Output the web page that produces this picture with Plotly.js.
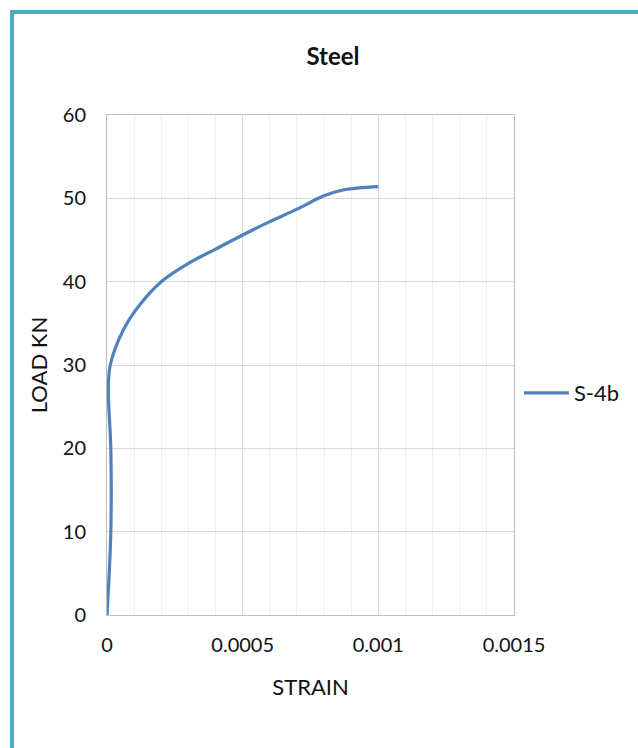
<!DOCTYPE html>
<html>
<head>
<meta charset="utf-8">
<script src="https://cdn.plot.ly/plotly-3.0.1.min.js"></script>
<style>
  html, body { margin: 0; padding: 0; background: #fff; }
  #chart { position: absolute; left: 0; top: 0; width: 638px; height: 748px; }
  #frame { position: absolute; left: 10px; top: 10px; width: 700px; height: 800px;
           border-left: 4px solid #4BACC6; border-top: 4px solid #4BACC6; pointer-events: none; }
</style>
</head>
<body>
<div id="chart"></div>
<div id="frame"></div>
<script>
const seriesName = "S-4b";
const strain = [0, 0.000014, 0.000014, 0.000005, 0.000012, 0.00006, 0.00012, 0.0002, 0.0003, 0.0004, 0.0005, 0.0006, 0.0007, 0.0008, 0.00087, 0.001];
const load   = [0, 10, 20, 27, 30, 34.2, 37.2, 40, 42.2, 43.9, 45.6, 47.2, 48.7, 50.3, 51.0, 51.4];
const xTicks = [0, 0.0005, 0.001, 0.0015];
const xTickText = ["0", "0.0005", "0.001", "0.0015"];
const yTicks = [0, 10, 20, 30, 40, 50, 60];

const font = "Lato, 'Open Sans', sans-serif";

const trace = {
  x: strain, y: load, name: seriesName, type: "scatter", mode: "lines",
  line: { color: "#4F81BD", width: 3.2, shape: "spline", smoothing: 1 },
  showlegend: true
};

const layout = {
  width: 638, height: 748,
  margin: { l: 107, r: 124, t: 115, b: 133 },
  paper_bgcolor: "#fff", plot_bgcolor: "#fff",
  font: { family: font, size: 20, color: "#111" },
  title: { text: "<b>Steel</b>", x: 0.522, xanchor: "center", y: 1 - 57 / 748, yanchor: "middle",
           font: { family: font, size: 24, color: "#111" } },
  xaxis: {
    range: [0, 0.0015], tickvals: xTicks, ticktext: xTickText,
    showgrid: true, gridcolor: "#D9D9D9", gridwidth: 1,
    minor: { dtick: 0.0001, tick0: 0, showgrid: true, gridcolor: "#EFEFEF", gridwidth: 1, ticks: "" },
    zeroline: false, showline: true, linecolor: "#BFBFBF", linewidth: 1, mirror: true,
    ticks: "outside", ticklen: 12, tickcolor: "rgba(0,0,0,0)",
    tickfont: { family: font, size: 20, color: "#111" },
    title: { text: "STRAIN", standoff: 24, font: { family: font, size: 22, color: "#111" } }
  },
  yaxis: {
    range: [0, 60], tickvals: yTicks,
    showgrid: true, gridcolor: "#D9D9D9", gridwidth: 1,
    zeroline: false, showline: true, linecolor: "#BFBFBF", linewidth: 1, mirror: true,
    ticks: "outside", ticklen: 16, tickcolor: "rgba(0,0,0,0)",
    tickfont: { family: font, size: 20, color: "#111" },
    title: { text: "LOAD KN", standoff: 9, font: { family: font, size: 22, color: "#111" } }
  },
  showlegend: true,
  legend: { x: 1.012, xanchor: "left", y: 0.444, yanchor: "middle", bgcolor: "rgba(0,0,0,0)",
            itemwidth: 45,
            font: { family: font, size: 22, color: "#111" } }
};

Plotly.newPlot("chart", [trace], layout, { displayModeBar: false, staticPlot: true });
</script>
</body>
</html>
